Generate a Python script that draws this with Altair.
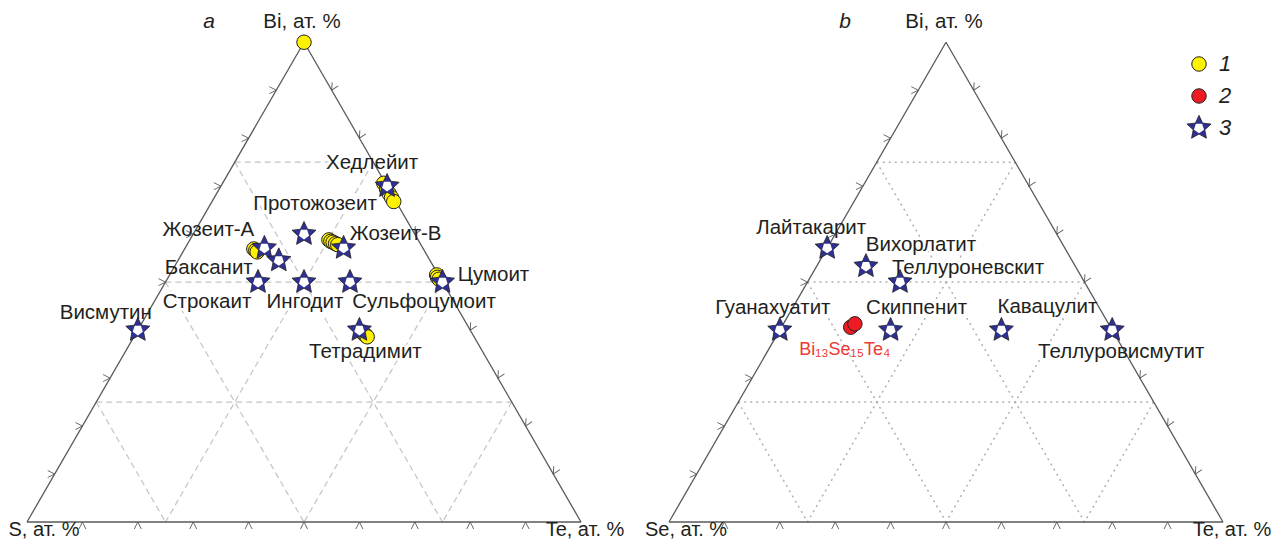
import math
import altair as alt
import pandas as pd

# ---------------- data (at. %) ----------------
# Panel a: Bi - S - Te
a_min_names = ["Висмутин", "Строкаит", "Ингодит", "Сульфоцумоит", "Цумоит", "Тетрадимит",
               "Хедлейит", "Жозеит-В", "Протожозеит", "Жозеит-А", "Баксанит"]
a_min_bi = [40.0, 50.0, 50.0, 50.0, 50.0, 40.0, 70.0, 57.1, 60.0, 57.1, 54.5]
a_min_s = [60.0, 33.3, 25.0, 16.7, 0.0, 20.0, 0.0, 14.3, 20.0, 28.6, 27.3]
a_min_te = [0.0, 16.7, 25.0, 33.3, 50.0, 40.0, 30.0, 28.6, 20.0, 14.3, 18.2]

a_smp_bi = [100.0, 70.6, 69.4, 68.4, 67.6, 66.8, 58.8, 58.5, 58.3, 58.0, 57.8,
            56.9, 56.6, 56.3, 51.5, 51.0, 50.6, 39.6, 39.2, 38.9, 38.6]
a_smp_s = [0.0, 0.3, 0.4, 0.4, 0.4, 0.4, 16.1, 15.9, 15.6, 15.3, 15.0,
           30.6, 30.4, 30.3, 0.3, 0.4, 0.3, 19.7, 19.6, 19.4, 19.3]
a_smp_te = [0.0, 29.1, 30.2, 31.2, 32.0, 32.8, 25.1, 25.6, 26.1, 26.7, 27.2,
            12.5, 13.0, 13.4, 48.2, 48.6, 49.1, 40.7, 41.2, 41.7, 42.1]

# Panel b: Bi - Se - Te
b_min_names = ["Лайтакарит", "Вихорлатит", "Теллуроневскит", "Гуанахуатит",
               "Скиппенит", "Кавацулит", "Теллуровисмутит"]
b_min_bi = [57.1, 53.3, 50.0, 40.0, 40.0, 40.0, 40.0]
b_min_se = [42.9, 37.8, 33.3, 60.0, 40.0, 20.0, 0.0]
b_min_te = [0.0, 8.9, 16.7, 0.0, 20.0, 40.0, 60.0]

b_smp_bi = [40.6, 41.3]
b_smp_se = [46.9, 45.8]
b_smp_te = [12.5, 12.9]
b_smp_label = "Bi₁₃Se₁₅Te₄"

# label offsets (pixels, relative to the mineral symbol)
a_lab_dx = [-32, -51, 1, 74, 51, 6, -15, 52, 11, -56, -70]
a_lab_dy = [-17, 20, 20, 20, -7, 22, -23, -14, -30, -18, 7]
b_lab_dx = [-16, 55, 68, -7, 26, 46, 9]
b_lab_dy = [-20, -21, -14, -22, -22, -23, 22]

legend_labels = ["1", "2", "3"]

# ---------------- layout ----------------
K = 5.54                 # px per ternary unit (side = 100 units)
OX, OY = 27.0, 522.0     # page px of panel a left vertex
OFF_B = (669.0 - OX) / K  # panel b offset in units
H = math.sqrt(3) / 2
FONT = "Liberation Sans"
FS = 20.5
TXT = "#231f20"
NAVY = "#2e3192"
YELLOW = "#fff200"
RED = "#ed1c24"
EDGE = "#58595b"


def px2u(px):
    return (px - OX) / K


def py2v(py):
    return (OY - py) / K


def tern(bi, te, other, off):
    t = bi + te + other
    bi, te = bi / t, te / t
    return off + (te + bi / 2) * 100.0, bi * 100.0 * H


xs = alt.Scale(domain=[px2u(8), px2u(1272)], nice=False, zero=False)
ys = alt.Scale(domain=[py2v(541), py2v(8)], nice=False, zero=False)


def enc(**extra):
    e = dict(x=alt.X("x:Q", scale=xs, axis=None), y=alt.Y("y:Q", scale=ys, axis=None))
    e.update(extra)
    return e


# edges, grid, ticks
edge_rows, grid_rows, tick_rows = [], [], []
for panel, off in (("a", 0.0), ("b", OFF_B)):
    V = {"bi": tern(100, 0, 0, off), "s": tern(0, 0, 100, off), "te": tern(0, 100, 0, off)}
    for p, q in (("s", "te"), ("te", "bi"), ("bi", "s")):
        edge_rows.append(dict(x=V[p][0], y=V[p][1], x2=V[q][0], y2=V[q][1]))
    for c in (25, 50, 75):
        segs = [(tern(c, 0, 100 - c, off), tern(c, 100 - c, 0, off)),
                (tern(100 - c, 0, c, off), tern(0, 100 - c, c, off)),
                (tern(100 - c, c, 0, off), tern(0, c, 100 - c, off))]
        for (x1, y1), (x2, y2) in segs:
            grid_rows.append(dict(panel=panel, x=x1, y=y1, x2=x2, y2=y2))
    for c in range(10, 100, 10):
        x, y = tern(c, 0, 100 - c, off)
        tick_rows.append(dict(side="left", x=x, y=y))
        x, y = tern(100 - c, c, 0, off)
        tick_rows.append(dict(side="right", x=x, y=y))
        x, y = tern(0, c, 100 - c, off)
        tick_rows.append(dict(side="bottom", x=x, y=y))

edges = pd.DataFrame(edge_rows)
grid = pd.DataFrame(grid_rows)
ticks = pd.DataFrame(tick_rows)

# minerals
min_rows = []
for n, bi, s, te, dx, dy in zip(a_min_names, a_min_bi, a_min_s, a_min_te, a_lab_dx, a_lab_dy):
    x, y = tern(bi, te, s, 0.0)
    min_rows.append(dict(name=n, x=x, y=y, lx=x + dx / K, ly=y - dy / K))
for n, bi, se, te, dx, dy in zip(b_min_names, b_min_bi, b_min_se, b_min_te, b_lab_dx, b_lab_dy):
    x, y = tern(bi, te, se, OFF_B)
    min_rows.append(dict(name=n, x=x, y=y, lx=x + dx / K, ly=y - dy / K))
minerals = pd.DataFrame(min_rows)

ysm = pd.DataFrame([dict(zip(("x", "y"), tern(bi, te, s, 0.0)))
                    for bi, s, te in zip(a_smp_bi, a_smp_s, a_smp_te)])
rsm = pd.DataFrame([dict(zip(("x", "y"), tern(bi, te, se, OFF_B)))
                    for bi, se, te in zip(b_smp_bi, b_smp_se, b_smp_te)])
rx, ry = tern(b_smp_bi[0], b_smp_te[0], b_smp_se[0], OFF_B)
red_lab = pd.DataFrame([dict(x=rx - 6 / K, y=ry - 23 / K, t=b_smp_label)])

# vertex labels
top_vl, bot_vl = [], []
for off, left, tdx in ((0.0, "S, ат. %", 4), (OFF_B, "Se, ат. %", 9)):
    bx, by = tern(100, 0, 0, off)
    top_vl.append(dict(x=bx - 2 / K, y=by + 20 / K, t="Bi, ат. %"))
    sx, sy = tern(0, 0, 100, off)
    bot_vl.append(dict(x=sx + 17 / K, y=sy - 18 / K, t=left))
    tx, ty = tern(0, 100, 0, off)
    bot_vl.append(dict(x=tx + tdx / K, y=ty - 18 / K, t="Te, ат. %"))
top_labels = pd.DataFrame(top_vl)
bot_labels = pd.DataFrame(bot_vl)
letters = pd.DataFrame([dict(x=px2u(209), y=py2v(22), t="a"),
                        dict(x=px2u(845), y=py2v(22), t="b")])

leg_pts = pd.DataFrame([dict(x=px2u(1199), y=py2v(64 + 32 * i), t=legend_labels[i]) for i in range(3)])
leg_txt = pd.DataFrame([dict(x=px2u(1219), y=py2v(64 + 32 * i), t=legend_labels[i]) for i in range(3)])


# marker shapes
def star_path(r_in):
    pts = []
    for i in range(10):
        a = math.radians(-90 + 36 * i)
        r = 1.0 if i % 2 == 0 else r_in
        pts.append((r * math.cos(a), r * math.sin(a)))
    return "M" + "L".join(f"{x:.3f},{y:.3f}" for x, y in pts) + "Z"


def penta_path(r):
    pts = []
    for i in range(5):
        a = math.radians(-54 + 72 * i)
        pts.append((r * math.cos(a), r * math.sin(a)))
    return "M" + "L".join(f"{x:.3f},{y:.3f}" for x, y in pts) + "Z"


STAR = star_path(0.48)
PENTA = penta_path(0.42)
CHEV = "M-0.5,1L0,0L0.5,1"
STAR_SIZE = 640
CIRC = 210

layers = []
layers.append(alt.Chart(grid[grid.panel == "a"]).mark_rule(color="#c4c4c4", strokeWidth=1.2, strokeDash=[6, 4])
              .encode(**enc(x2="x2:Q", y2="y2:Q")))
layers.append(alt.Chart(grid[grid.panel == "b"]).mark_rule(color="#b0b0b0", strokeWidth=1.5, strokeDash=[2, 4])
              .encode(**enc(x2="x2:Q", y2="y2:Q")))
# label halos
layers.append(alt.Chart(minerals).mark_text(font=FONT, fontSize=FS, color="white", stroke="white", strokeWidth=5)
              .encode(x=alt.X("lx:Q", scale=xs, axis=None), y=alt.Y("ly:Q", scale=ys, axis=None), text="name:N"))
layers.append(alt.Chart(edges).mark_rule(color=EDGE, strokeWidth=1.3).encode(**enc(x2="x2:Q", y2="y2:Q")))
for side, ang in (("left", 90), ("right", 210), ("bottom", 0)):
    layers.append(alt.Chart(ticks[ticks.side == side]).mark_point(shape=CHEV, angle=ang, size=196, filled=False,
                                                                 color=EDGE, strokeWidth=0.9, opacity=1)
                  .encode(**enc()))
layers.append(alt.Chart(ysm).mark_point(shape="circle", size=CIRC, filled=True, fill=YELLOW, stroke="#231f20",
                                        strokeWidth=1, opacity=1).encode(**enc()))
layers.append(alt.Chart(rsm).mark_point(shape="circle", size=CIRC, filled=True, fill=RED, stroke="#231f20",
                                        strokeWidth=1, opacity=1).encode(**enc()))
layers.append(alt.Chart(minerals).mark_point(shape=STAR, size=STAR_SIZE, filled=True, fill=NAVY, stroke="#231f20",
                                             strokeWidth=0.8, opacity=1).encode(**enc()))
layers.append(alt.Chart(minerals).mark_point(shape=PENTA, size=STAR_SIZE, filled=True, fill="white",
                                             strokeWidth=0, opacity=1).encode(**enc()))
layers.append(alt.Chart(minerals).mark_text(font=FONT, fontSize=FS, color=TXT)
              .encode(x=alt.X("lx:Q", scale=xs, axis=None), y=alt.Y("ly:Q", scale=ys, axis=None), text="name:N"))
layers.append(alt.Chart(red_lab).mark_text(font=FONT, fontSize=18, color="#ee3a33").encode(**enc(text="t:N")))
layers.append(alt.Chart(top_labels).mark_text(font=FONT, fontSize=FS, color=TXT).encode(**enc(text="t:N")))
layers.append(alt.Chart(bot_labels).mark_text(font=FONT, fontSize=20, color=TXT, baseline="bottom")
              .encode(**enc(text="t:N")))
layers.append(alt.Chart(letters).mark_text(font=FONT, fontSize=21, fontStyle="italic", color=TXT)
              .encode(**enc(text="t:N")))
# legend
layers.append(alt.Chart(leg_pts[leg_pts.t == "1"]).mark_point(shape="circle", size=CIRC, filled=True, fill=YELLOW,
                                                             stroke="#231f20", strokeWidth=1, opacity=1).encode(**enc()))
layers.append(alt.Chart(leg_pts[leg_pts.t == "2"]).mark_point(shape="circle", size=CIRC, filled=True, fill=RED,
                                                             stroke="#231f20", strokeWidth=1, opacity=1).encode(**enc()))
layers.append(alt.Chart(leg_pts[leg_pts.t == "3"]).mark_point(shape=STAR, size=STAR_SIZE, filled=True, fill=NAVY,
                                                             stroke="#231f20", strokeWidth=0.8, opacity=1).encode(**enc()))
layers.append(alt.Chart(leg_pts[leg_pts.t == "3"]).mark_point(shape=PENTA, size=STAR_SIZE, filled=True, fill="white",
                                                             strokeWidth=0, opacity=1).encode(**enc()))
layers.append(alt.Chart(leg_txt).mark_text(font=FONT, fontSize=22, fontStyle="italic", color=TXT, align="left")
              .encode(**enc(text="t:N")))

chart = alt.layer(*layers).properties(
    width=1264, height=533, padding=0, autosize=alt.AutoSizeParams(type="none")
).configure(background="white").configure_view(stroke=None)

chart.save("out.html", embed_options={"renderer": "svg", "actions": False})
